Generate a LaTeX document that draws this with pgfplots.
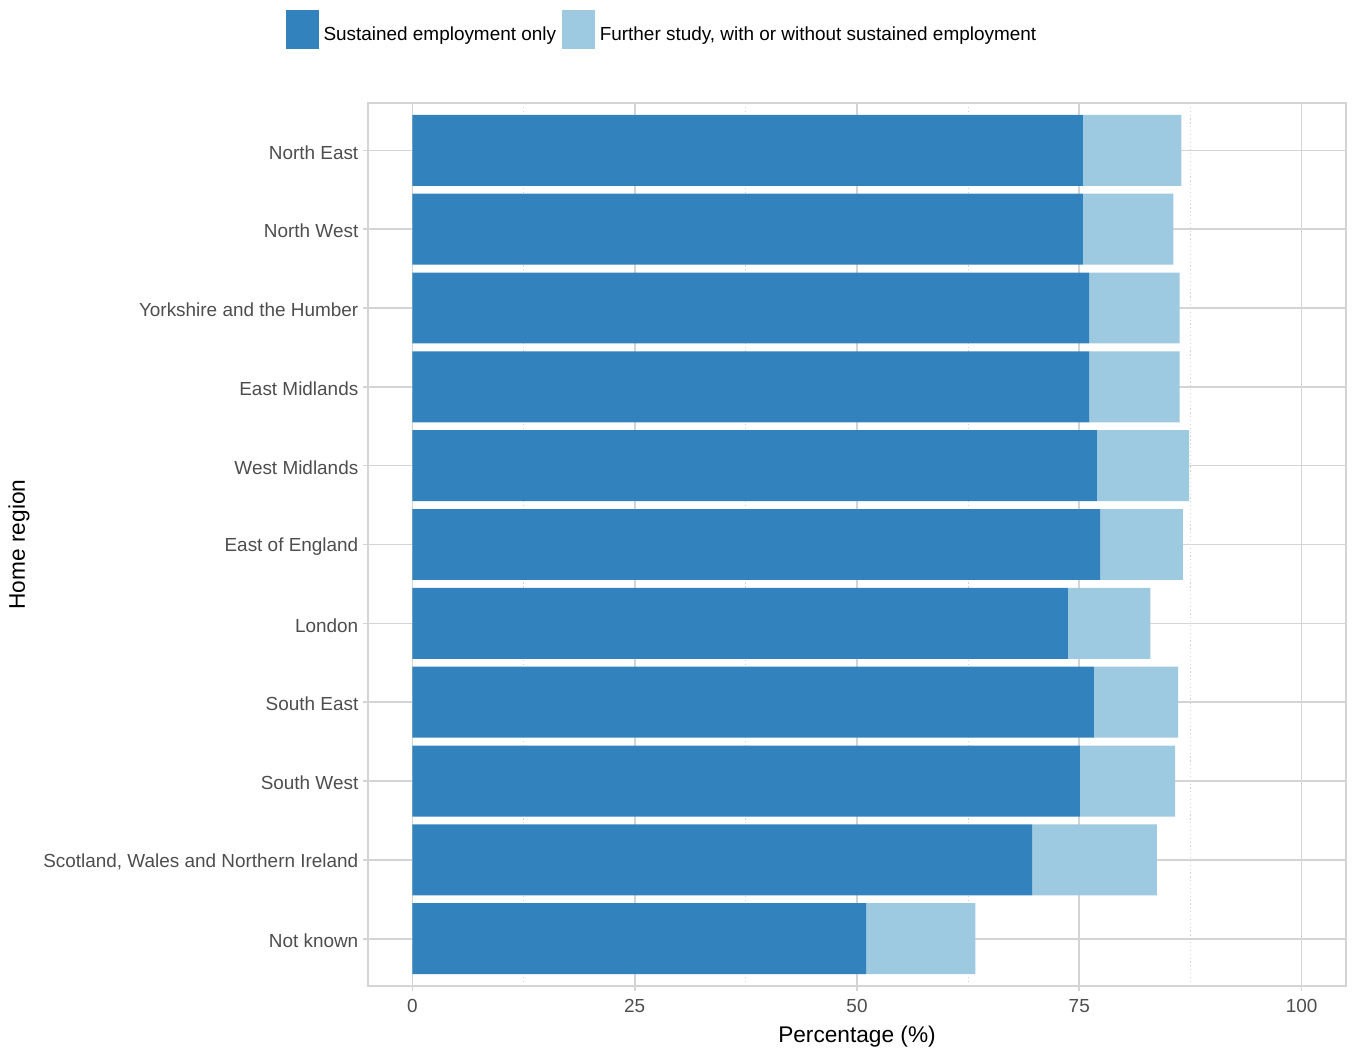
\documentclass[border=0pt]{standalone}
\usepackage{pgfplots}
\pgfplotsset{compat=1.18}
\usepackage{fontspec}
\setmainfont{Liberation Sans}
\definecolor{dk}{HTML}{3182BD}
\definecolor{lt}{HTML}{9ECAE1}
\definecolor{gridc}{HTML}{D4D4D4}
\definecolor{tickc}{HTML}{4D4D4D}
\begin{document}
\begin{tikzpicture}
\useasboundingbox (-276pt,-49.5pt) rectangle (738pt,739.5pt);
\begin{axis}[
  at={(0,0)}, anchor=south west,
  scale only axis, width=733.5pt, height=662.25pt,
  xbar stacked, bar width=0.9,
  xmin=-5, xmax=105, ymin=-0.6, ymax=10.6, y dir=reverse,
  xtick={0,25,50,75,100}, minor xtick={12.5,37.5,62.5,87.5},
  ytick={0,...,10},
  yticklabels={North East,North West,Yorkshire and the Humber,East Midlands,West Midlands,East of England,London,South East,South West,{Scotland, Wales and Northern Ireland},Not known},
  /pgf/number format/assume math mode=true,
  tick label style={font=\fontsize{14.2}{17}\selectfont, text=tickc},
  yticklabel style={yshift=-1.5pt},
  xticklabel style={yshift=-3pt},
  tick align=outside, major tick length=3.75pt, minor tick length=0pt,
  tick style={gridc, line width=1.2pt},
  xtick pos=bottom, ytick pos=left,
  grid=major, xminorgrids=true,
  major grid style={gridc, line width=1.2pt},
  minor grid style={gridc, line width=0.9pt, dotted},
  axis line style={gridc, line width=1.2pt},
  xlabel={Percentage (\%)}, ylabel={Home region},
  label style={font=\fontsize{17}{20}\selectfont},
  xlabel style={at={(axis description cs:0.5,-0.0578)}, anchor=center},
  ylabel style={at={(axis description cs:-0.3569,0.5)}, anchor=center},
  legend columns=2,
  legend style={at={(axis description cs:0.2996,1.0833)}, anchor=center, draw=none, fill=none,
    font=\fontsize{14.2}{17}\selectfont, inner sep=0pt,
    nodes={inner sep=0pt, anchor=west, yshift=-2pt},
    /tikz/every odd column/.append style={column sep=3.5pt},
    /tikz/every even column/.append style={column sep=4.5pt}},
  legend image code/.code={\fill[#1] (0pt,-12.6pt) rectangle (24.75pt,16.6pt);},
]
\addplot[fill=dk, draw=none] coordinates {
(75.40,0) (75.40,1) (76.12,2) (76.12,3) (76.98,4) (77.35,5) (73.72,6) (76.64,7) (75.07,8) (69.71,9) (51.03,10)};
\addplot[fill=lt, draw=none] coordinates {
(11.09,0) (10.19,1) (10.18,2) (10.18,3) (10.37,4) (9.29,5) (9.28,6) (9.47,7) (10.71,8) (14.01,9) (12.28,10)};
\legend{Sustained employment only, {Further study, with or without sustained employment}}
\end{axis}
\end{tikzpicture}
\end{document}
